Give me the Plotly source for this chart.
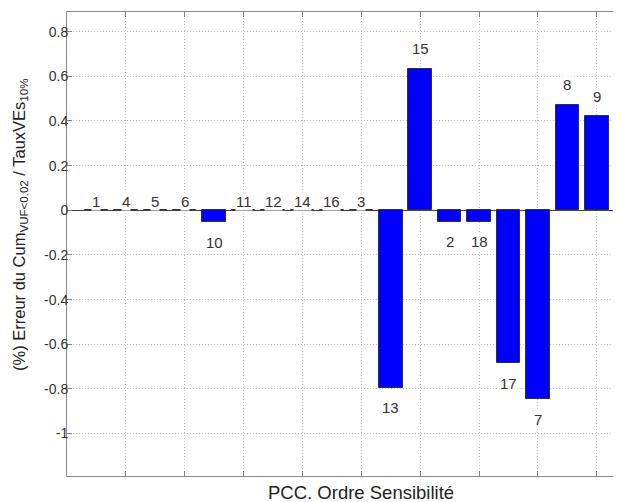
import plotly.graph_objects as go

# Data
labels = ["1", "4", "5", "6", "10", "11", "12", "14", "16", "3",
          "13", "15", "2", "18", "17", "7", "8", "9"]
values = [0, 0, 0, 0, -0.054, 0, 0, 0, 0, 0,
          -0.794, 0.634, -0.052, -0.052, -0.686, -0.847, 0.473, 0.422]
positions = list(range(1, len(labels) + 1))
ytick_vals = [-1, -0.8, -0.6, -0.4, -0.2, 0, 0.2, 0.4, 0.6, 0.8]
ytick_text = ["-1", "-0.8", "-0.6", "-0.4", "-0.2", "0", "0.2", "0.4", "0.6", "0.8"]
xtick_vals = [2, 4, 6, 8, 10, 12, 14, 16, 18]

FONT = "Liberation Sans, Arial, sans-serif"
OFF = 8  # default page body margin
W, H = 621 - OFF, 502 - OFF
ML, MT = 67 - OFF, 12 - OFF
MB = H - (476 - OFF)
MR = 0
PX_PER_UNIT = 29.43

fig = go.Figure()
fig.add_trace(go.Bar(
    x=positions, y=values, width=0.8,
    marker=dict(color="#0000ff", line=dict(color="#303030", width=1)),
    showlegend=False,
))

annotations = []
for p, v, lab in zip(positions, values, labels):
    if v > 0:
        shift = 20
    elif v < 0:
        shift = -20
    else:
        shift = 8.5
    annotations.append(dict(
        x=p, y=v, xref="x", yref="y", text=lab, showarrow=False,
        yshift=shift, yanchor="middle", xanchor="center",
        font=dict(family=FONT, size=15, color="#333333"),
        bgcolor="white", borderpad=0,
    ))

plot_w = W - ML - MR
plot_h = H - MT - MB
# x title (page pixel 361, 492)
annotations.append(dict(
    x=(361 - OFF - ML) / plot_w, y=-((492 - OFF) - (H - MB)) / plot_h,
    xref="paper", yref="paper",
    text="PCC. Ordre Sensibilité", showarrow=False, xanchor="center", yanchor="middle",
    font=dict(family=FONT, size=18.5, color="#222222"),
))
# y title (page pixel 20, 225)
annotations.append(dict(
    x=(20 - OFF - ML) / plot_w, y=((H - MB) - (225 - OFF)) / plot_h,
    xref="paper", yref="paper",
    text="(%) Erreur du Cum<sub>VUF&lt;0.02</sub> / TauxVEs<sub>10%</sub>",
    showarrow=False, textangle=-90, xanchor="center", yanchor="middle",
    font=dict(family=FONT, size=16.5, color="#222222"),
))

fig.update_layout(
    width=W, height=H,
    margin=dict(l=ML, r=MR, t=MT, b=MB, pad=0),
    paper_bgcolor="white", plot_bgcolor="white",
    annotations=annotations,
    bargap=0,
    xaxis=dict(
        range=[0, plot_w / PX_PER_UNIT], tickvals=xtick_vals, showticklabels=False,
        ticks="inside", ticklen=5, tickcolor="#808080",
        showgrid=True, gridcolor="#c0c0c0", griddash="1px,2px", gridwidth=1,
        showline=True, linecolor="#8a8a8a", linewidth=1, mirror="ticks",
        zeroline=False, automargin=False,
    ),
    yaxis=dict(
        range=[-1.19, 0.888], tickvals=ytick_vals, ticktext=ytick_text,
        ticks="inside", ticklen=5, tickcolor="#808080",
        tickfont=dict(family=FONT, size=14, color="#333333"),
        showgrid=True, gridcolor="#c0c0c0", griddash="1px,2px", gridwidth=1,
        showline=True, linecolor="#8a8a8a", linewidth=1, mirror="ticks",
        zeroline=True, zerolinecolor="#404040", zerolinewidth=1,
        ticklabelstandoff=-5, automargin=False,
    ),
)

fig.write_html("out.html")
